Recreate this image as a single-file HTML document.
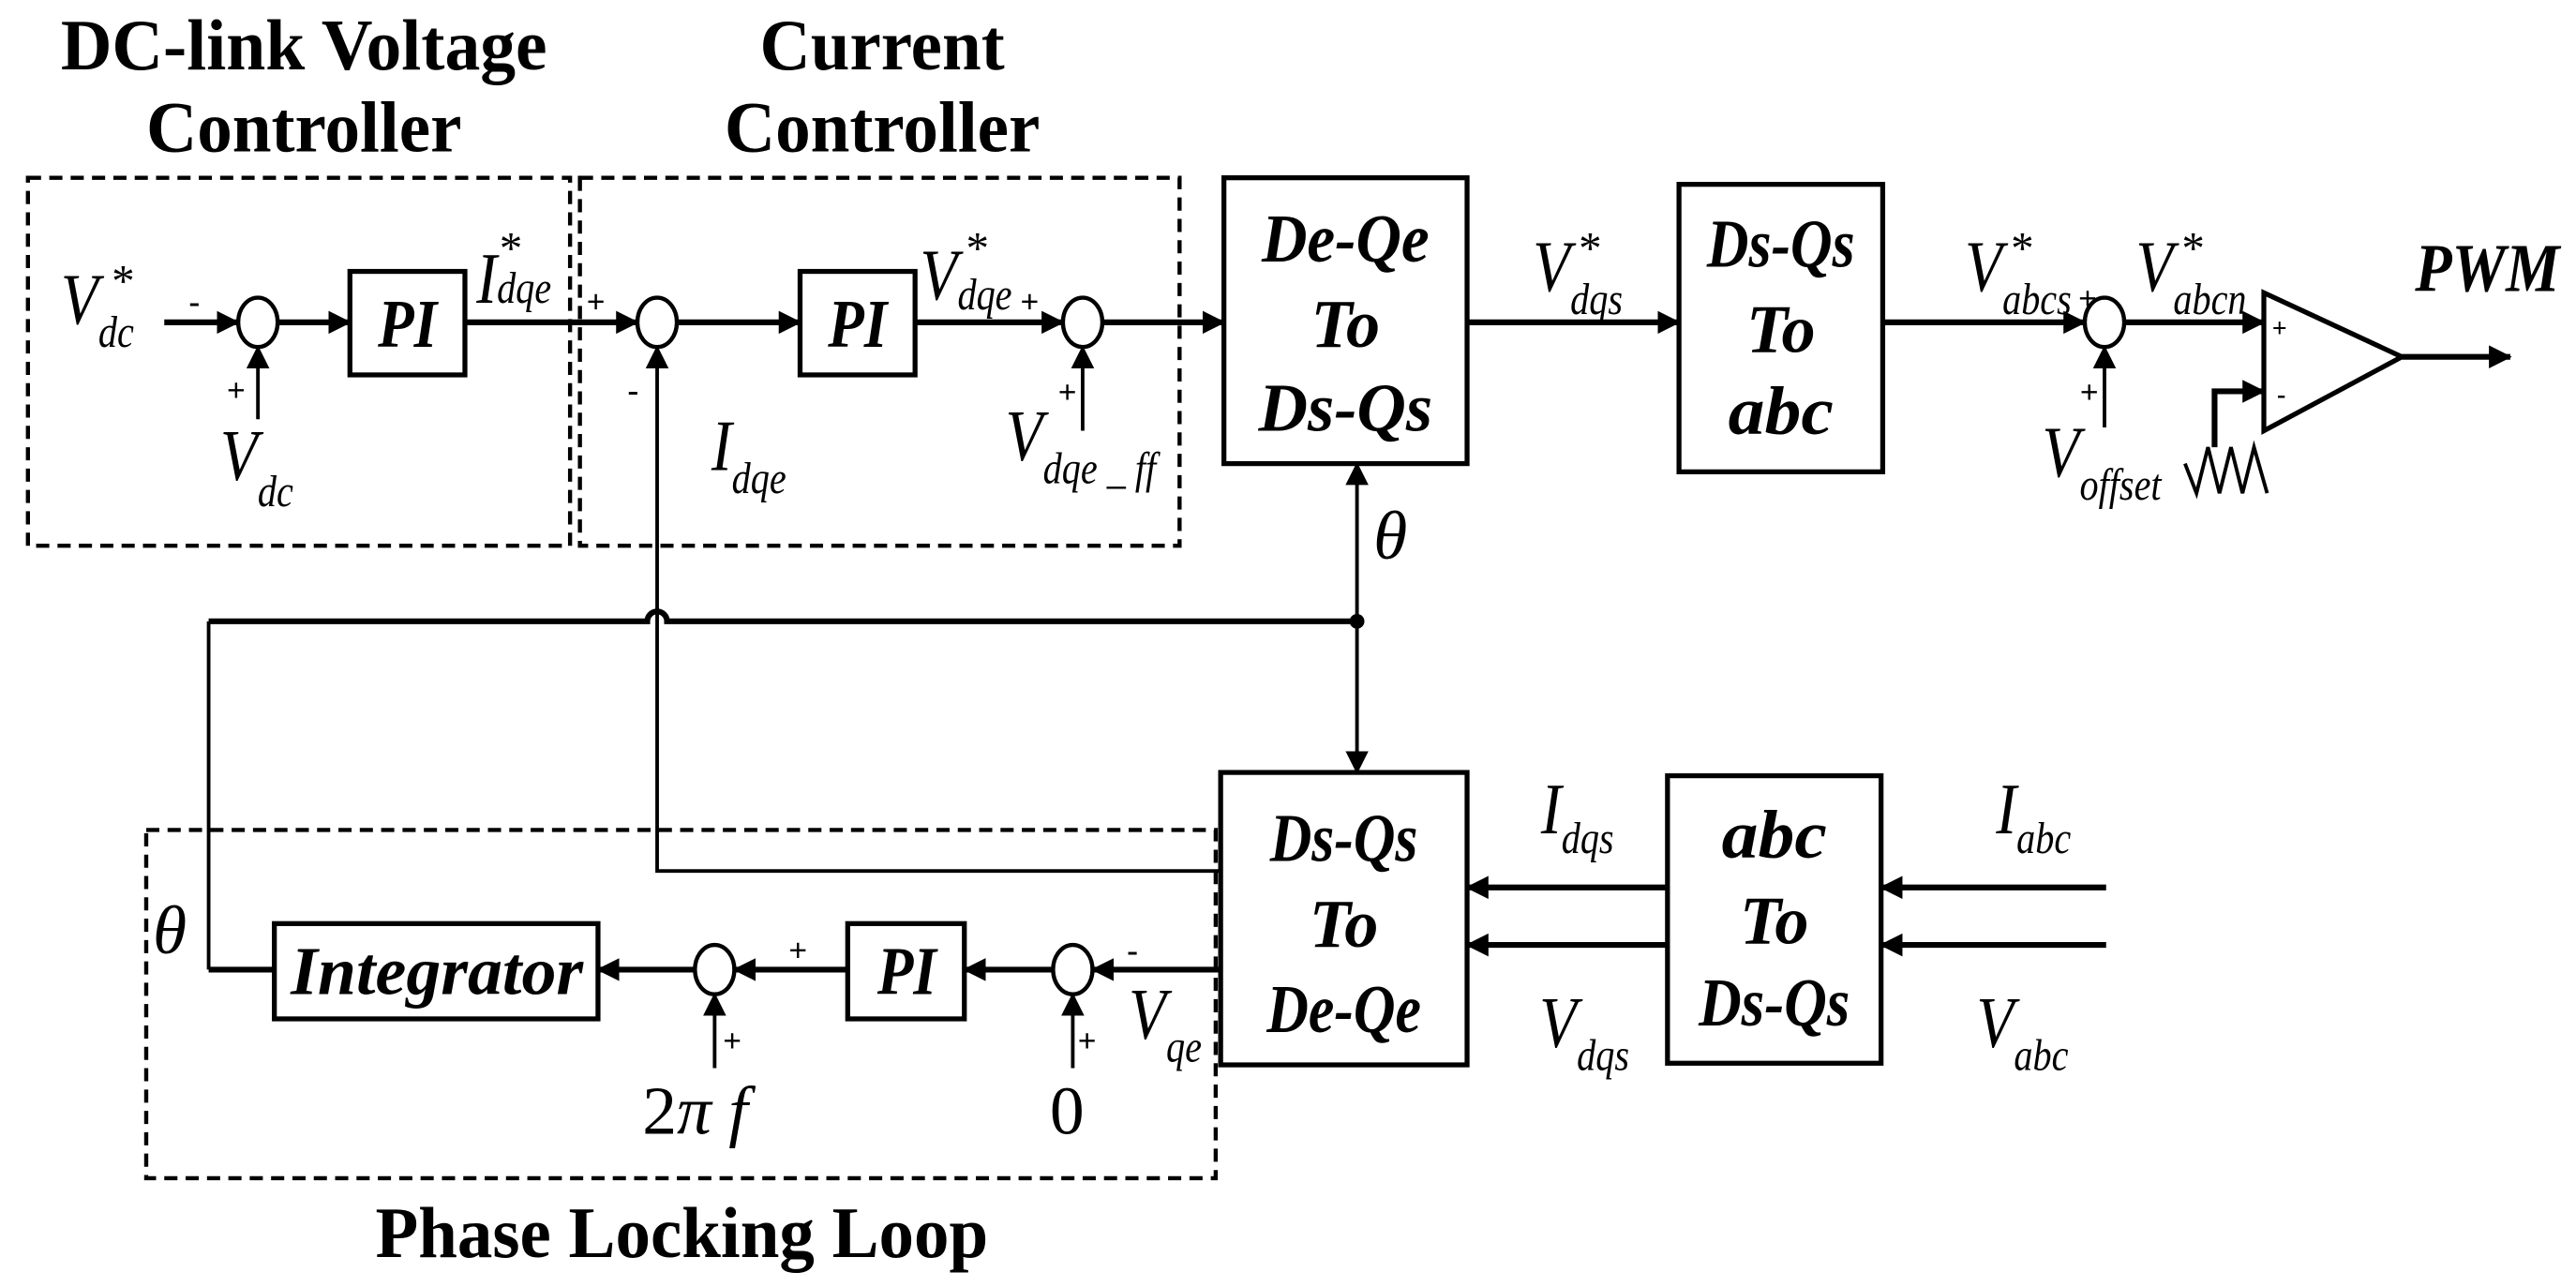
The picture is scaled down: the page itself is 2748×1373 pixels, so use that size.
<!DOCTYPE html>
<html><head><meta charset="utf-8"><style>
html,body{margin:0;padding:0;background:#fff}
svg{display:block}
text{font-family:"Liberation Serif",serif;fill:#000}
.b{font-weight:bold}
.i{font-style:italic}
</style></head><body>
<svg width="2748" height="1373" viewBox="0 0 1568 783" xmlns="http://www.w3.org/2000/svg">
<defs>
<marker id="A" markerWidth="14" markerHeight="14" refX="13" refY="7" orient="auto" markerUnits="userSpaceOnUse"><path d="M0,0 L14,7 L0,14 z" fill="#000"/></marker>
</defs>
<g fill="none" stroke="#000">
<g stroke-width="2.5" stroke-dasharray="8,5">
<rect x="17" y="108" width="330" height="224"/>
<rect x="353" y="108" width="365" height="224"/>
<rect x="89" y="505" width="651" height="212"/>
</g>
<g stroke-width="3">
<rect x="213" y="165" width="70" height="63"/>
<rect x="487" y="165" width="70" height="63"/>
<rect x="745" y="108" width="148" height="174"/>
<rect x="1022" y="112" width="124" height="175"/>
<rect x="743" y="470" width="150" height="178"/>
<rect x="1015" y="472" width="130" height="175"/>
<rect x="167" y="562" width="197" height="58"/>
<rect x="516" y="562" width="71" height="58"/>
</g>
<g stroke-width="2.5">
<ellipse cx="157" cy="196" rx="12" ry="15"/>
<ellipse cx="400" cy="196" rx="12" ry="15"/>
<ellipse cx="659" cy="196" rx="12" ry="15"/>
<ellipse cx="1281" cy="196" rx="12" ry="15"/>
<ellipse cx="435" cy="590" rx="12" ry="15"/>
<ellipse cx="653" cy="590" rx="12" ry="15"/>
</g>
<g stroke-width="3.5">
<line x1="100" y1="196" x2="145" y2="196" marker-end="url(#A)"/>
<line x1="169" y1="196" x2="213" y2="196" marker-end="url(#A)"/>
<line x1="283" y1="196" x2="388" y2="196" marker-end="url(#A)"/>
<line x1="412" y1="196" x2="487" y2="196" marker-end="url(#A)"/>
<line x1="557" y1="196" x2="647" y2="196" marker-end="url(#A)"/>
<line x1="671" y1="196" x2="745" y2="196" marker-end="url(#A)"/>
<line x1="893" y1="196" x2="1022" y2="196" marker-end="url(#A)"/>
<line x1="1146" y1="196" x2="1269" y2="196" marker-end="url(#A)"/>
<line x1="1293" y1="196" x2="1378" y2="196" marker-end="url(#A)"/>
<line x1="1462" y1="217" x2="1528" y2="217" marker-end="url(#A)"/>
<polyline points="1348,272 1348,238 1378,238" marker-end="url(#A)"/>
<line x1="1015" y1="540" x2="893" y2="540" marker-end="url(#A)"/>
<line x1="1015" y1="575" x2="893" y2="575" marker-end="url(#A)"/>
<line x1="1282" y1="540" x2="1145" y2="540" marker-end="url(#A)"/>
<line x1="1282" y1="575" x2="1145" y2="575" marker-end="url(#A)"/>
<line x1="743" y1="590" x2="665" y2="590" marker-end="url(#A)"/>
<line x1="641" y1="590" x2="587" y2="590" marker-end="url(#A)"/>
<line x1="516" y1="590" x2="447" y2="590" marker-end="url(#A)"/>
<line x1="423" y1="590" x2="364" y2="590" marker-end="url(#A)"/>
<path d="M127,590 L167,590"/>
<path d="M127,378 L394,378 A6,6 0 0 1 406,378 L826,378"/>
</g>
<g stroke-width="2.2">
<line x1="157" y1="255" x2="157" y2="211" marker-end="url(#A)"/>
<line x1="659" y1="262" x2="659" y2="211" marker-end="url(#A)"/>
<line x1="1281" y1="260" x2="1281" y2="211" marker-end="url(#A)"/>
<polyline points="743,530 400,530 400,211" marker-end="url(#A)"/>
<line x1="826" y1="378" x2="826" y2="282" marker-end="url(#A)"/>
<line x1="826" y1="378" x2="826" y2="470" marker-end="url(#A)"/>
<line x1="127" y1="378" x2="127" y2="590"/>
<line x1="435" y1="650" x2="435" y2="605" marker-end="url(#A)"/>
<line x1="653" y1="650" x2="653" y2="605" marker-end="url(#A)"/>
<polyline points="1330,282 1337,300 1344,272 1351,300 1358,272 1365,300 1372,272 1380,300"/>
</g>
<polygon points="1378,178 1378,262 1462,217" stroke-width="3"/>
</g>
<circle cx="826" cy="378" r="4.5" fill="#000"/>
<!-- titles -->
<g class="b" font-size="44" text-anchor="middle">
<text x="185" y="42" textLength="296" lengthAdjust="spacingAndGlyphs">DC-link Voltage</text>
<text x="185" y="92" textLength="192" lengthAdjust="spacingAndGlyphs">Controller</text>
<text x="537" y="42" textLength="149" lengthAdjust="spacingAndGlyphs">Current</text>
<text x="537" y="92" textLength="192" lengthAdjust="spacingAndGlyphs">Controller</text>
<text x="415" y="765" textLength="373" lengthAdjust="spacingAndGlyphs">Phase Locking Loop</text>
</g>
<text x="1470" y="177" class="b i" font-size="42" textLength="88" lengthAdjust="spacingAndGlyphs">PWM</text>
<!-- block labels -->
<g class="b i" font-size="42" text-anchor="middle">
<text x="248" y="211" textLength="36" lengthAdjust="spacingAndGlyphs">PI</text>
<text x="522" y="211" textLength="36" lengthAdjust="spacingAndGlyphs">PI</text>
<text x="819" y="159" textLength="102" lengthAdjust="spacingAndGlyphs">De-Qe</text>
<text x="819" y="211" textLength="42" lengthAdjust="spacingAndGlyphs">To</text>
<text x="819" y="262" textLength="106" lengthAdjust="spacingAndGlyphs">Ds-Qs</text>
<text x="1084" y="162" textLength="90" lengthAdjust="spacingAndGlyphs">Ds-Qs</text>
<text x="1084" y="214" textLength="42" lengthAdjust="spacingAndGlyphs">To</text>
<text x="1084" y="264" textLength="64" lengthAdjust="spacingAndGlyphs">abc</text>
<text x="818" y="524" textLength="90" lengthAdjust="spacingAndGlyphs">Ds-Qs</text>
<text x="818" y="576" textLength="42" lengthAdjust="spacingAndGlyphs">To</text>
<text x="818" y="628" textLength="94" lengthAdjust="spacingAndGlyphs">De-Qe</text>
<text x="1080" y="522" textLength="64" lengthAdjust="spacingAndGlyphs">abc</text>
<text x="1080" y="574" textLength="42" lengthAdjust="spacingAndGlyphs">To</text>
<text x="1080" y="624" textLength="92" lengthAdjust="spacingAndGlyphs">Ds-Qs</text>
<text x="552" y="605" textLength="36" lengthAdjust="spacingAndGlyphs">PI</text>
<text x="266" y="605" textLength="178" lengthAdjust="spacingAndGlyphs">Integrator</text>
</g>
<!-- signal labels -->
<g class="i" font-size="44">
<text transform="translate(37,197) scale(0.85,1)">V<tspan font-size="27" dy="14">dc</tspan></text>
<text x="68" y="180" font-size="28" font-style="normal">*</text>
<text transform="translate(134,292) scale(0.85,1)">V<tspan font-size="27" dy="16">dc</tspan></text>
<text transform="translate(290,184) scale(0.85,1)">I<tspan font-size="27" dy="0">dqe</tspan></text>
<text x="304" y="160" font-size="28" font-style="normal">*</text>
<text transform="translate(433,286) scale(0.85,1)">I<tspan font-size="27" dy="14">dqe</tspan></text>
<text transform="translate(560,182) scale(0.85,1)">V<tspan font-size="27" dy="6">dqe</tspan></text>
<text x="588" y="160" font-size="28" font-style="normal">*</text>
<text transform="translate(612,280) scale(0.85,1)">V<tspan font-size="27" dy="14">dqe _ ff</tspan></text>
<text transform="translate(933,177) scale(0.85,1)">V<tspan font-size="27" dy="14">dqs</tspan></text>
<text x="961" y="160" font-size="28" font-style="normal">*</text>
<text transform="translate(1196,177) scale(0.85,1)">V<tspan font-size="27" dy="14">abcs</tspan></text>
<text x="1224" y="160" font-size="28" font-style="normal">*</text>
<text transform="translate(1300,177) scale(0.85,1)">V<tspan font-size="27" dy="14">abcn</tspan></text>
<text x="1328" y="160" font-size="28" font-style="normal">*</text>
<text transform="translate(1243,290) scale(0.85,1)">V<tspan font-size="27" dy="14">offset</tspan></text>
<text x="836" y="340" font-size="42">θ</text>
<text x="93" y="580" font-size="42">θ</text>
<text transform="translate(938,507) scale(0.85,1)">I<tspan font-size="27" dy="12">dqs</tspan></text>
<text transform="translate(937,637) scale(0.85,1)">V<tspan font-size="27" dy="14">dqs</tspan></text>
<text transform="translate(1215,507) scale(0.85,1)">I<tspan font-size="27" dy="12">abc</tspan></text>
<text transform="translate(1203,637) scale(0.85,1)">V<tspan font-size="27" dy="14">abc</tspan></text>
<text transform="translate(687,632) scale(0.85,1)">V<tspan font-size="27" dy="14">qe</tspan></text>
<text x="391" y="690" font-size="42" font-style="normal">2<tspan font-style="italic">π f</tspan></text>
<text x="639" y="690" font-size="42" font-style="normal">0</text>
</g>
<g font-size="20" class="b">
<text x="115" y="190">-</text>
<text x="138" y="244">+</text>
<text x="357" y="190">+</text>
<text x="382" y="244">-</text>
<text x="621" y="190">+</text>
<text x="644" y="245">+</text>
<text x="1265" y="188">+</text>
<text x="1266" y="245">+</text>
<text x="1383" y="205" font-size="16">+</text>
<text x="1386" y="245" font-size="16">-</text>
<text x="480" y="585">+</text>
<text x="686" y="585">-</text>
<text x="440" y="640">+</text>
<text x="656" y="640">+</text>
</g>
</svg>
</body></html>
